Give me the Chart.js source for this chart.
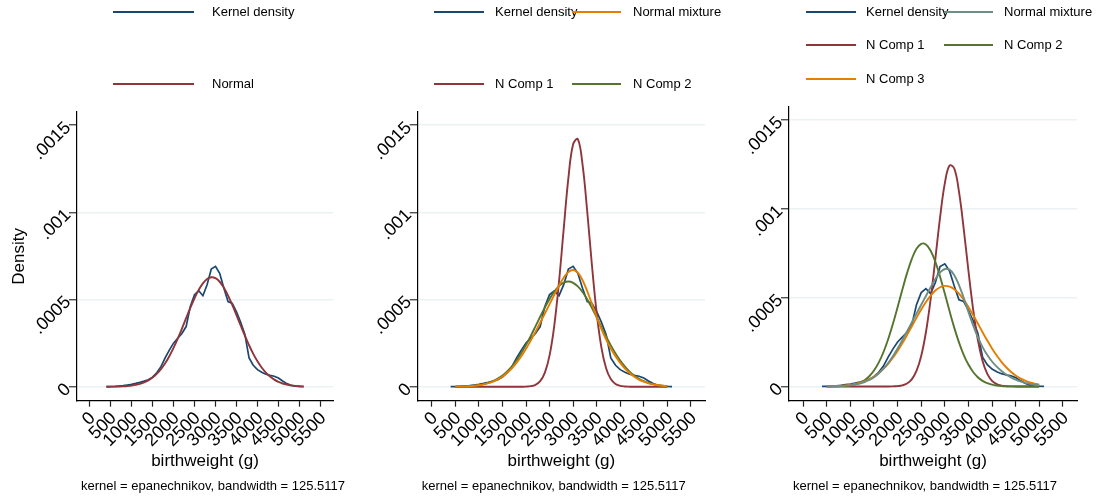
<!DOCTYPE html>
<html>
<head>
<meta charset="utf-8">
<script src="https://cdn.jsdelivr.net/npm/chart.js@4.4.1/dist/chart.umd.min.js"></script>
<style>
  html, body { margin: 0; padding: 0; background: #fff; }
  #wrap { position: relative; width: 1102px; height: 497px; overflow: hidden; }
  canvas { position: absolute; top: 0; }
</style>
</head>
<body>
<div id="wrap">
  <canvas id="p1" width="367" height="497" style="left:0px"></canvas>
  <canvas id="p2" width="368" height="497" style="left:367px"></canvas>
  <canvas id="p3" width="367" height="497" style="left:735px"></canvas>
</div>
<script>
// evaluation grid of the kernel estimate (g)
const kdX = [400, 500, 600, 700, 800, 900, 1000, 1100, 1200, 1300, 1400, 1500, 1600, 1700, 1800, 1900,
  2000, 2100, 2200, 2300, 2400, 2500, 2600, 2700, 2800, 2900, 3000, 3100, 3200, 3300, 3400, 3500,
  3600, 3700, 3800, 3900, 4000, 4100, 4200, 4300, 4400, 4500, 4600, 4700, 4800, 4900, 5000, 5100];
// grid of the fitted mixture curves (g)
const fitX = [500, 600, 700, 800, 900, 1000, 1100, 1200, 1300, 1400, 1500, 1600, 1700, 1800, 1900,
  2000, 2100, 2200, 2300, 2400, 2500, 2600, 2700, 2800, 2900, 3000, 3100, 3200, 3300, 3400, 3500,
  3600, 3700, 3800, 3900, 4000, 4100, 4200, 4300, 4400, 4500, 4600, 4700, 4800, 4900, 5000];

// kernel density (same in all panels), on kdX
const kdY = [5e-7, 1e-6, 2e-6, 4e-6, 6e-6, 1e-5, 1.4e-5, 1.9e-5, 2.5e-5, 3.2e-5, 4e-5, 5.5e-5, 8e-5,
  1.15e-4, 1.65e-4, 2.1e-4, 2.5e-4, 2.78e-4, 3.05e-4, 3.45e-4, 4.6e-4, 5.28e-4, 5.5e-4, 5.22e-4,
  5.85e-4, 6.75e-4, 6.9e-4, 6.5e-4, 5.65e-4, 4.88e-4, 4.78e-4, 4.3e-4, 3.7e-4, 3.0e-4, 1.65e-4,
  1.23e-4, 9.8e-5, 8.3e-5, 7.2e-5, 6.5e-5, 6e-5, 5e-5, 3.3e-5, 1.8e-5, 8e-6, 4e-6, 2e-6, 1e-6];
// normal density (panel 1), on kdX
const normalY = [2.5e-7, 4.5e-7, 8.2e-7, 1.4e-6, 2.5e-6, 4.1e-6, 6.7e-6, 1.06e-5, 1.64e-5, 2.47e-5,
  3.65e-5, 5.24e-5, 7.36e-5, 1.007e-4, 1.344e-4, 1.751e-4, 2.224e-4, 2.757e-4, 3.332e-4, 3.928e-4,
  4.52e-4, 5.072e-4, 5.553e-4, 5.93e-4, 6.178e-4, 6.278e-4, 6.224e-4, 6.019e-4, 5.678e-4, 5.226e-4,
  4.691e-4, 4.108e-4, 3.51e-4, 2.925e-4, 2.378e-4, 1.886e-4, 1.458e-4, 1.101e-4, 8.1e-5, 5.82e-5,
  4.08e-5, 2.79e-5, 1.86e-5, 1.21e-5, 7.7e-6, 4.7e-6, 2.9e-6, 1.7e-6];

// panel 2: two-component mixture, on fitX
const mix2Y = [7.6e-7, 1.3e-6, 2.2e-6, 3.6e-6, 5.7e-6, 8.9e-6, 1.36e-5, 2.03e-5, 2.95e-5, 4.21e-5,
  5.86e-5, 7.98e-5, 1.061e-4, 1.38e-4, 1.753e-4, 2.178e-4, 2.647e-4, 3.147e-4, 3.667e-4, 4.197e-4,
  4.734e-4, 5.27e-4, 5.791e-4, 6.252e-4, 6.582e-4, 6.696e-4, 6.537e-4, 6.108e-4, 5.474e-4, 4.74e-4,
  4.0e-4, 3.317e-4, 2.714e-4, 2.192e-4, 1.746e-4, 1.364e-4, 1.044e-4, 7.84e-5, 5.75e-5, 4.13e-5,
  2.89e-5, 1.98e-5, 1.32e-5, 8.7e-6, 5.5e-6, 3.5e-6];
const comp1of2Y = [0, 0, 0, 0, 0, 0, 0, 0, 0, 0, 0, 0, 0, 0, 2e-7, 9e-7, 3.4e-6, 1.12e-5, 3.2e-5,
  8.1e-5, 1.8e-4, 3.51e-4, 6.01e-4, 9.05e-4, 1.197e-3, 1.39e-3, 1.419e-3, 1.273e-3, 1.003e-3, 6.95e-4,
  4.23e-4, 2.26e-4, 1.06e-4, 4.38e-5, 1.59e-5, 5.1e-6, 1.4e-6, 3.5e-7, 0, 0, 0, 0, 0, 0, 0, 0];
const comp2of2Y = [8.4e-7, 1.44e-6, 2.4e-6, 3.94e-6, 6.28e-6, 9.81e-6, 1.497e-5, 2.233e-5, 3.256e-5,
  4.64e-5, 6.46e-5, 8.8e-5, 1.17e-4, 1.521e-4, 1.933e-4, 2.401e-4, 2.915e-4, 3.459e-4, 4.01e-4,
  4.545e-4, 5.035e-4, 5.451e-4, 5.768e-4, 5.965e-4, 6.03e-4, 5.957e-4, 5.752e-4, 5.429e-4, 5.007e-4,
  4.514e-4, 3.978e-4, 3.426e-4, 2.883e-4, 2.372e-4, 1.908e-4, 1.498e-4, 1.151e-4, 8.64e-5, 6.34e-5,
  4.55e-5, 3.19e-5, 2.18e-5, 1.46e-5, 9.56e-6, 6.11e-6, 3.82e-6];

// panel 3: three-component mixture, on fitX
const mix3Y = [6.4e-7, 1.06e-6, 1.75e-6, 2.84e-6, 4.55e-6, 7.17e-6, 1.11e-5, 1.69e-5, 2.52e-5, 3.68e-5,
  5.26e-5, 7.34e-5, 9.98e-5, 1.322e-4, 1.703e-4, 2.135e-4, 2.605e-4, 3.099e-4, 3.598e-4, 4.099e-4,
  4.596e-4, 5.093e-4, 5.584e-4, 6.042e-4, 6.409e-4, 6.61e-4, 6.572e-4, 6.262e-4, 5.707e-4, 4.984e-4,
  4.196e-4, 3.438e-4, 2.771e-4, 2.215e-4, 1.767e-4, 1.406e-4, 1.113e-4, 8.73e-5, 6.76e-5, 5.14e-5,
  3.84e-5, 2.82e-5, 2.03e-5, 1.43e-5, 9.9e-6, 6.7e-6];
const comp1of3Y = [0, 0, 0, 0, 0, 0, 0, 0, 0, 0, 0, 0, 0, 0, 6.9e-7, 2.2e-6, 6.4e-6, 1.69e-5, 4.03e-5,
  8.73e-5, 1.714e-4, 3.051e-4, 4.917e-4, 7.184e-4, 9.515e-4, 1.1423e-3, 1.2431e-3, 1.2261e-3,
  1.0963e-3, 8.883e-4, 6.524e-4, 4.342e-4, 2.621e-4, 1.433e-4, 7.11e-5, 3.19e-5, 1.3e-5, 4.8e-6,
  1.6e-6, 5e-7, 0, 0, 0, 0, 0, 0];
const comp2of3Y = [1.7e-7, 3.9e-7, 8.3e-7, 1.72e-6, 3.43e-6, 6.53e-6, 1.198e-5, 2.103e-5, 3.555e-5,
  5.77e-5, 8.98e-5, 1.341e-4, 1.925e-4, 2.653e-4, 3.512e-4, 4.459e-4, 5.442e-4, 6.376e-4, 7.167e-4,
  7.741e-4, 8.025e-4, 7.99e-4, 7.637e-4, 7.01e-4, 6.176e-4, 5.228e-4, 4.246e-4, 3.311e-4, 2.481e-4,
  1.784e-4, 1.232e-4, 8.17e-5, 5.2e-5, 3.18e-5, 1.865e-5, 1.051e-5, 5.68e-6, 2.95e-6, 1.47e-6,
  7.1e-7, 3.3e-7, 1.5e-7, 0, 0, 0, 0];
const comp3of3Y = [9.7e-7, 1.58e-6, 2.55e-6, 4.03e-6, 6.23e-6, 9.45e-6, 1.404e-5, 2.043e-5, 2.918e-5,
  4.08e-5, 5.59e-5, 7.51e-5, 9.88e-5, 1.276e-4, 1.614e-4, 1.999e-4, 2.428e-4, 2.892e-4, 3.375e-4,
  3.86e-4, 4.327e-4, 4.752e-4, 5.116e-4, 5.398e-4, 5.582e-4, 5.658e-4, 5.621e-4, 5.473e-4, 5.222e-4,
  4.884e-4, 4.476e-4, 4.021e-4, 3.54e-4, 3.054e-4, 2.583e-4, 2.141e-4, 1.739e-4, 1.384e-4, 1.081e-4,
  8.26e-5, 6.19e-5, 4.55e-5, 3.28e-5, 2.31e-5, 1.6e-5, 1.08e-5];

const xTicks = [0, 500, 1000, 1500, 2000, 2500, 3000, 3500, 4000, 4500, 5000, 5500];
const yTicks = [0, 0.0005, 0.001, 0.0015];
const yTickLabels = ['0', '.0005', '.001', '.0015'];
const xTitle = 'birthweight (g)';
const yTitle = 'Density';
const note = 'kernel = epanechnikov, bandwidth = 125.5117';

const FONT = '"Liberation Sans", Arial, Helvetica, sans-serif';
const NAVY = '#1a476f', MAROON = '#90353b', GREEN = '#55752f', ORANGE = '#e37e00', TEAL = '#6e8e84';

Chart.defaults.font.family = FONT;
Chart.defaults.color = '#000';

const pts = (xs, ys) => xs.map((x, i) => ({ x: x, y: ys[i] }));

// legend and note, drawn in the top / bottom margins like Stata does
const stataDecor = {
  id: 'stataDecor',
  afterDraw(chart, args, opts) {
    const ctx = chart.ctx;
    ctx.save();
    ctx.font = '13px ' + FONT;
    ctx.textBaseline = 'middle';
    ctx.fillStyle = '#000';
    opts.items.forEach(it => {
      const ds = chart.data.datasets.find(d => d.label === it.label);
      ctx.strokeStyle = ds.borderColor;
      ctx.lineWidth = 1.8;
      ctx.beginPath();
      ctx.moveTo(it.x0, it.y);
      ctx.lineTo(it.x1, it.y);
      ctx.stroke();
      ctx.fillText(ds.label, it.tx, it.y);
    });
    ctx.fillText(opts.note, chart.chartArea.left + 4, 486);
    ctx.restore();
  }
};

function makePanel(cfg) {
  new Chart(document.getElementById(cfg.id), {
    type: 'line',
    data: {
      datasets: cfg.series.map(s => ({
        label: s.label,
        data: pts(s.x, s.y),
        borderColor: s.color,
        borderWidth: s.smooth ? 1.9 : 1.7,
        pointRadius: 0,
        tension: s.smooth ? 0.4 : 0,
        fill: false
      }))
    },
    options: {
      responsive: false,
      animation: false,
      events: [],
      layout: { padding: { top: cfg.top, right: cfg.right, left: 0, bottom: 0 } },
      plugins: {
        legend: { display: false },
        tooltip: { enabled: false },
        stataDecor: { items: cfg.legend, note: note }
      },
      scales: {
        x: {
          type: 'linear',
          min: -300,
          max: 5800,
          afterBuildTicks: s => { s.ticks = xTicks.map(v => ({ value: v })); },
          afterFit: s => { s.height = 96.3; },
          grid: { drawOnChartArea: false, tickLength: 6, tickColor: '#222', tickWidth: 1.2 },
          border: { color: '#000', width: 1.2 },
          ticks: {
            autoSkip: false, minRotation: 45, maxRotation: 45, padding: 1, labelOffset: 3,
            font: { size: 18 }, color: '#000',
            callback: v => String(v)
          },
          title: { display: true, text: xTitle, font: { size: 17 }, color: '#000', padding: { top: 0, bottom: 25 } }
        },
        y: {
          min: -0.00008,
          max: 0.001575,
          afterBuildTicks: s => { s.ticks = yTicks.map(v => ({ value: v })); },
          afterFit: s => { s.width = cfg.yWidth; },
          grid: {
            color: c => (cfg.hideTopGrid && c.tick && c.tick.value === 0.0015) ? 'rgba(0,0,0,0)' : '#eaf2f3',
            lineWidth: 1.5, tickLength: 8, tickColor: '#333', tickWidth: 1.2
          },
          border: { color: '#000', width: 1.2 },
          ticks: {
            minRotation: 45, maxRotation: 45, padding: 1,
            font: { size: 18 }, color: '#000',
            callback: v => yTickLabels[yTicks.indexOf(v)]
          },
          title: { display: !!cfg.yTitle, text: yTitle, font: { size: 17 }, color: '#000', padding: { top: 9, bottom: 0 } }
        }
      }
    },
    plugins: [stataDecor]
  });
}

// first series in each list is drawn on top
makePanel({
  id: 'p1', top: 112, right: 34, yWidth: 77, yTitle: true, hideTopGrid: true,
  series: [
    { label: 'Normal', x: kdX, y: normalY, color: MAROON, smooth: true },
    { label: 'Kernel density', x: kdX, y: kdY, color: NAVY }
  ],
  legend: [
    { label: 'Kernel density', x0: 113, x1: 194, tx: 212, y: 12 },
    { label: 'Normal', x0: 113, x1: 194, tx: 212, y: 84 }
  ]
});

makePanel({
  id: 'p2', top: 112, right: 30, yWidth: 50.7,
  series: [
    { label: 'Normal mixture', x: fitX, y: mix2Y, color: ORANGE, smooth: true },
    { label: 'N Comp 2', x: fitX, y: comp2of2Y, color: GREEN, smooth: true },
    { label: 'N Comp 1', x: fitX, y: comp1of2Y, color: MAROON, smooth: true },
    { label: 'Kernel density', x: kdX, y: kdY, color: NAVY }
  ],
  legend: [
    { label: 'Kernel density', x0: 67, x1: 117, tx: 128, y: 12 },
    { label: 'Normal mixture', x0: 205, x1: 254, tx: 266, y: 12 },
    { label: 'N Comp 1', x0: 67, x1: 117, tx: 128, y: 84 },
    { label: 'N Comp 2', x0: 205, x1: 254, tx: 266, y: 84 }
  ]
});

makePanel({
  id: 'p3', top: 106.5, right: 25, yWidth: 54,
  series: [
    { label: 'Normal mixture', x: fitX, y: mix3Y, color: TEAL, smooth: true },
    { label: 'N Comp 3', x: fitX, y: comp3of3Y, color: ORANGE, smooth: true },
    { label: 'N Comp 2', x: fitX, y: comp2of3Y, color: GREEN, smooth: true },
    { label: 'N Comp 1', x: fitX, y: comp1of3Y, color: MAROON, smooth: true },
    { label: 'Kernel density', x: kdX, y: kdY, color: NAVY }
  ],
  legend: [
    { label: 'Kernel density', x0: 71, x1: 121, tx: 131, y: 12 },
    { label: 'Normal mixture', x0: 209, x1: 258, tx: 269, y: 12 },
    { label: 'N Comp 1', x0: 71, x1: 121, tx: 131, y: 45 },
    { label: 'N Comp 2', x0: 209, x1: 258, tx: 269, y: 45 },
    { label: 'N Comp 3', x0: 71, x1: 121, tx: 131, y: 79 }
  ]
});
</script>
</body>
</html>
